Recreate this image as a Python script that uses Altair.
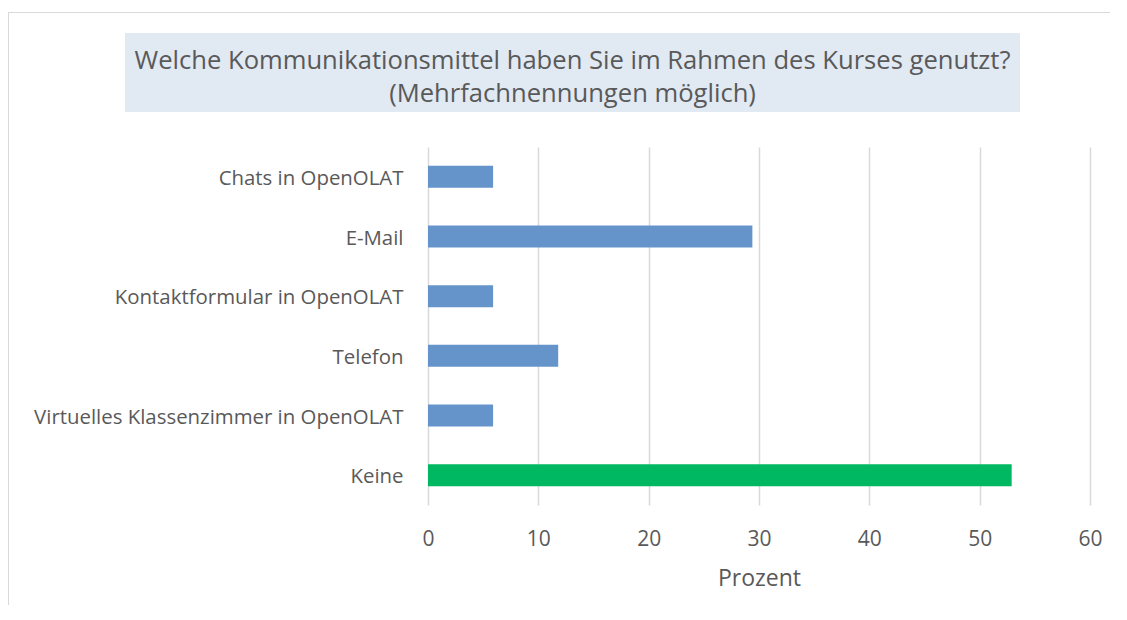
import altair as alt
import pandas as pd

kategorien = ["Chats in OpenOLAT", "E-Mail", "Kontaktformular in OpenOLAT", "Telefon",
              "Virtuelles Klassenzimmer in OpenOLAT", "Keine"]
prozent = [5.9, 29.4, 5.9, 11.8, 5.9, 52.9]
titel = ["Welche Kommunikationsmittel haben Sie im Rahmen des Kurses genutzt?",
         "(Mehrfachnennungen möglich)"]

df = pd.DataFrame({"Kategorie": kategorien, "Prozent": prozent})
one = pd.DataFrame({"z": [0]})

FONT = "Open Sans"
TXT = "#595959"
W, H = 662, 358

bars = alt.Chart(df).mark_bar().encode(
    x=alt.X("Prozent:Q", scale=alt.Scale(domain=[0, 60], nice=False),
            axis=alt.Axis(values=[0, 10, 20, 30, 40, 50, 60], title="Prozent",
                          grid=True, gridColor="#d9d9d9", gridWidth=1.5,
                          domain=False, ticks=False, labelPadding=23,
                          labelFlush=False,
                          labelFontSize=21, labelColor=TXT, labelFont=FONT,
                          titleFontSize=23, titleColor=TXT, titleFont=FONT,
                          titleFontWeight="normal", titlePadding=18)),
    y=alt.Y("Kategorie:N", sort=kategorien,
            scale=alt.Scale(paddingInner=0.63, paddingOuter=0.315),
            axis=alt.Axis(title=None, domain=False, ticks=False, labelPadding=25,
                          labelOffset=2,
                          labelFontSize=20.4, labelColor=TXT, labelFont=FONT,
                          labelLimit=500)),
    color=alt.condition(alt.datum.Kategorie == "Keine", alt.value("#00b862"), alt.value("#6494c9")),
)

box = alt.Chart(one).mark_rect(color="#e1e9f3").encode(
    x=alt.value(-303), x2=alt.value(592), y=alt.value(-114), y2=alt.value(-35)
)

t1 = alt.Chart(one).mark_text(text=titel[0], font=FONT, fontSize=25.6, color=TXT,
                              fontWeight="normal", align="center", baseline="middle").encode(
    x=alt.value(144.5), y=alt.value(-86))
t2 = alt.Chart(one).mark_text(text=titel[1], font=FONT, fontSize=25.6, color=TXT,
                              fontWeight="normal", align="center", baseline="middle").encode(
    x=alt.value(144.5), y=alt.value(-53))

border_top = alt.Chart(one).mark_rule(color="#d9d9d9", strokeWidth=1).encode(
    x=alt.value(-420), x2=alt.value(700), y=alt.value(-134.5))
border_left = alt.Chart(one).mark_rule(color="#d9d9d9", strokeWidth=1).encode(
    x=alt.value(-419.5), y=alt.value(-134.5), y2=alt.value(480))

chart = alt.layer(box, t1, t2, border_top, border_left, bars).properties(
    width=W, height=H,
    autosize=alt.AutoSizeParams(type="none"),
    padding={"left": 420, "top": 139, "right": 20, "bottom": 100},
).configure_view(stroke=None)

chart.save("out.html", embed_options={"renderer": "svg", "actions": False})
